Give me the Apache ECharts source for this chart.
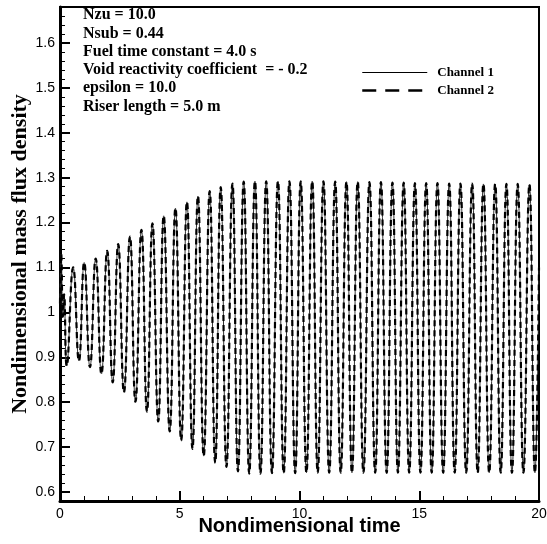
<!DOCTYPE html>
<html>
<head>
<meta charset="utf-8">
<script src="https://cdn.jsdelivr.net/npm/echarts@6/dist/echarts.min.js"></script>
<style>
  html, body { margin: 0; padding: 0; background: #fff; }
  #chart { width: 547px; height: 544px; }
</style>
</head>
<body>
<div id="chart"></div>
<script>
// Nondimensional time of each turning point (start transient, then alternating troughs/peaks)
const timeCh1 = [
  0.00, 0.05, 0.12, 0.17, 0.28, 0.55, 0.79, 1.01, 1.25, 1.49, 1.73, 1.97, 2.20, 2.43, 2.67, 2.92,
  3.15, 3.40, 3.63, 3.86, 4.10, 4.33, 4.58, 4.82, 5.06, 5.30, 5.53, 5.76, 6.00, 6.25, 6.48, 6.71,
  6.95, 7.20, 7.43, 7.67, 7.90, 8.14, 8.37, 8.61, 8.85, 9.10, 9.34, 9.58, 9.82, 10.05, 10.29, 10.53,
  10.76, 11.00, 11.24, 11.49, 11.72, 11.96, 12.19, 12.43, 12.67, 12.92, 13.16, 13.40, 13.64, 13.88,
  14.11, 14.35, 14.58, 14.82, 15.05, 15.29, 15.52, 15.76, 16.00, 16.25, 16.48, 16.72, 16.96, 17.21,
  17.44, 17.68, 17.92, 18.17, 18.40, 18.64, 18.87, 19.11, 19.35, 19.60, 19.83, 20.00
];
// Mass flux density of channel 1 at those times
const fluxCh1 = [
  1.020, 1.130, 0.990, 1.040, 0.881, 1.100, 0.892, 1.111, 0.878, 1.120, 0.863, 1.137, 0.844, 1.152, 0.822, 1.169,
  0.801, 1.184, 0.779, 1.198, 0.757, 1.215, 0.735, 1.232, 0.715, 1.246, 0.696, 1.259, 0.680, 1.270, 0.665, 1.279,
  0.656, 1.287, 0.646, 1.291, 0.641, 1.292, 0.641, 1.292, 0.642, 1.292, 0.642, 1.292, 0.642, 1.292, 0.643, 1.292,
  0.643, 1.292, 0.643, 1.291, 0.643, 1.291, 0.643, 1.291, 0.643, 1.290, 0.643, 1.290, 0.643, 1.289,
  0.643, 1.289, 0.643, 1.288, 0.643, 1.288, 0.643, 1.288, 0.643, 1.287, 0.643, 1.287, 0.643, 1.287,
  0.643, 1.286, 0.643, 1.286, 0.643, 1.286, 0.643, 1.286, 0.643, 1.285, 0.643, 1.100
];
// Channel 2 runs in step with channel 1
const timeCh2 = timeCh1.slice();
const fluxCh2 = fluxCh1.slice();

const seriesNames = ['Channel 1', 'Channel 2'];
const notes = [
  'Nzu = 10.0',
  'Nsub = 0.44',
  'Fuel time constant = 4.0 s',
  'Void reactivity coefficient  = - 0.2',
  'epsilon = 10.0',
  'Riser length = 5.0 m'
];

const pairs = (t, v) => t.map((x, i) => [x, v[i]]);
const serif = 'Liberation Serif';
const sans = 'Liberation Sans';

const solidStyle = { color: '#333', width: 1, type: 'solid' };
const dashStyle = { color: '#000', width: 2.2, type: [6, 4] };

const chart = echarts.init(document.getElementById('chart'), null, { renderer: 'canvas' });
chart.setOption({
  backgroundColor: '#fff',
  animation: false,
  color: ['#000', '#000'],
  title: {
    text: notes.join('\n'),
    left: 83, top: 6, padding: 0,
    textStyle: { fontFamily: serif, fontWeight: 'bold', fontSize: 16, lineHeight: 18.3, color: '#000' }
  },
  legend: {
    orient: 'vertical', left: 361, top: 66, padding: 0,
    itemWidth: 65, itemHeight: 14, itemGap: 5,
    itemStyle: { opacity: 0 },
    textStyle: { fontFamily: serif, fontWeight: 'bold', fontSize: 13, color: '#000', padding: [0, 0, 0, 5] },
    data: [
      { name: seriesNames[0], itemStyle: { opacity: 0 }, lineStyle: { color: '#000', width: 1, type: 'solid' } },
      { name: seriesNames[1], itemStyle: { opacity: 0 }, lineStyle: { color: '#000', width: 2.5, type: [14, 9] } }
    ]
  },
  grid: {
    left: 60, top: 7, width: 479, height: 494,
    outerBoundsMode: 'none', containLabel: false,
    show: true, borderColor: '#000', borderWidth: 2, backgroundColor: 'transparent'
  },
  xAxis: {
    type: 'value', min: 0, max: 20, interval: 5,
    name: 'Nondimensional time', nameLocation: 'middle', nameGap: 15, nameMoveOverlap: false,
    nameTextStyle: { fontFamily: sans, fontWeight: 'bold', fontSize: 20, color: '#000' },
    axisLine: { show: true, lineStyle: { color: '#000', width: 3 } },
    axisTick: { show: true, inside: true, length: 10, lineStyle: { color: '#000', width: 2 } },
    minorTick: { show: true, splitNumber: 5, length: 5, lineStyle: { color: '#000', width: 1 } },
    axisLabel: { fontFamily: sans, fontSize: 14, color: '#000', margin: 6 },
    splitLine: { show: false }
  },
  yAxis: [
    {
      // fine ticks every 0.02
      type: 'value', min: 0.58, max: 1.68, interval: 0.02, position: 'left',
      axisLine: { show: true, lineStyle: { color: '#000', width: 3 } },
      axisTick: { show: true, inside: true, length: 5, lineStyle: { color: '#000', width: 1 } },
      axisLabel: { show: false },
      splitLine: { show: false }
    },
    {
      // labelled ticks every 0.1
      type: 'value', min: 0.58, max: 1.68, minInterval: 0.1, maxInterval: 0.1, position: 'left', offset: 0,
      name: 'Nondimensional mass flux density', nameLocation: 'middle', nameGap: 29, nameMoveOverlap: false,
      nameTextStyle: { fontFamily: serif, fontWeight: 'bold', fontSize: 22, color: '#000' },
      axisLine: { show: false },
      axisTick: { show: true, inside: true, length: 10, lineStyle: { color: '#000', width: 2 } },
      axisLabel: { fontFamily: sans, fontSize: 14, color: '#000', margin: 5, showMinLabel: false, showMaxLabel: false },
      splitLine: { show: false }
    }
  ],
  series: [
    {
      name: seriesNames[0], type: 'line', yAxisIndex: 0, smooth: true, symbol: 'none',
      data: pairs(timeCh1, fluxCh1), lineStyle: solidStyle, z: 3
    },
    {
      name: seriesNames[1], type: 'line', yAxisIndex: 0, smooth: true, symbol: 'none',
      data: pairs(timeCh2, fluxCh2), lineStyle: dashStyle, z: 4
    }
  ]
});
</script>
</body>
</html>
